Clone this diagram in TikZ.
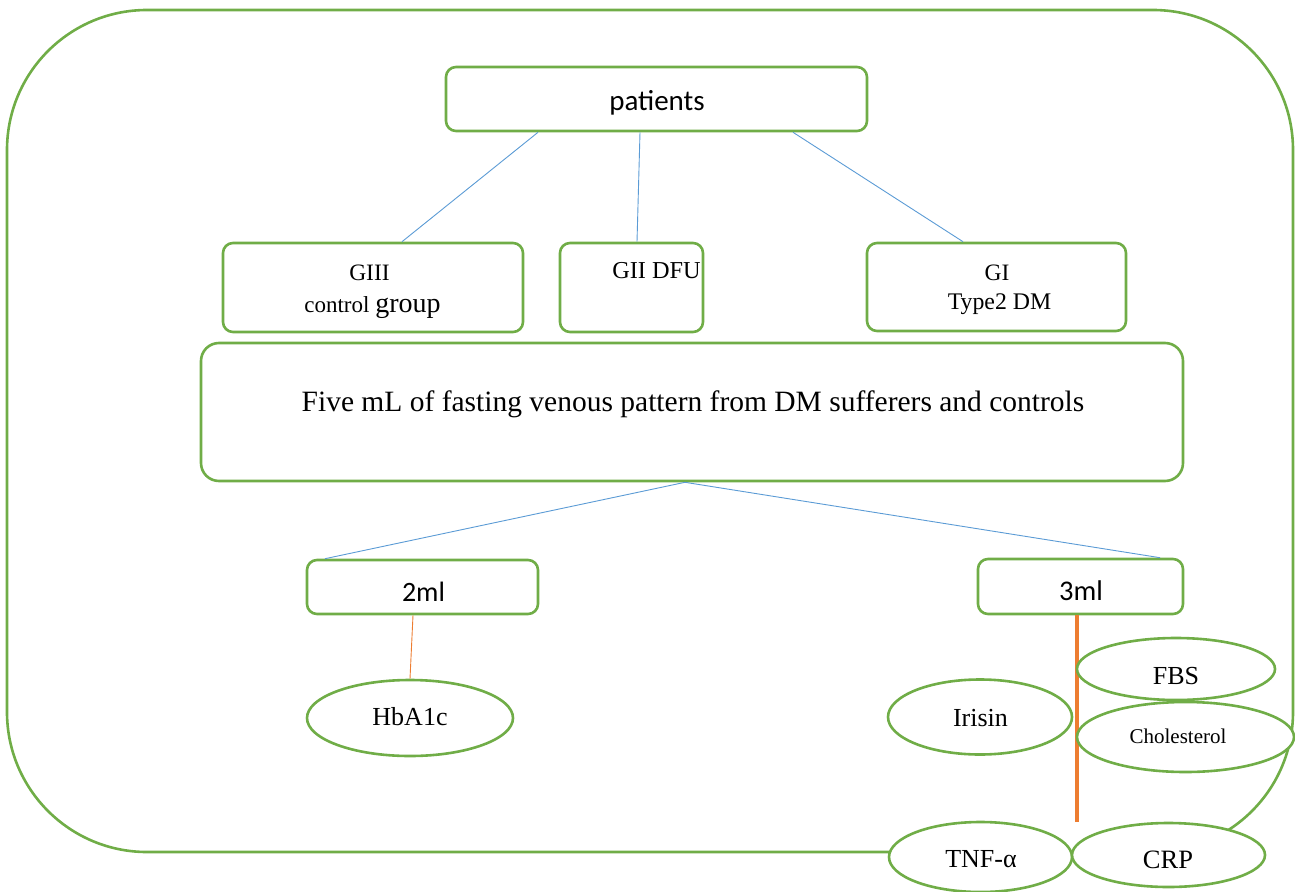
\documentclass[tikz,border=0pt]{standalone}
\usepackage{fontspec}
\setmainfont{Liberation Serif}
\newfontfamily\calfont{Carlito}
\usetikzlibrary{shapes.geometric}
\definecolor{grn}{HTML}{70AD47}
\definecolor{blu}{HTML}{5B9BD5}
\definecolor{org}{HTML}{ED7D31}
\tikzset{
  box/.style={draw=grn, line width=2.6pt, rounded corners=10pt, fill=white, inner sep=0pt},
  oval/.style={draw=grn, line width=2.6pt, ellipse, fill=white, inner sep=0pt},
  link/.style={draw=blu, line width=0.9pt},
  txt/.style={inner sep=0pt, anchor=base},
}
\newcommand{\fs}[1]{\fontsize{#1}{#1}\selectfont}
\begin{document}
\begin{tikzpicture}[x=1pt,y=-1pt]
\useasboundingbox (0,0) rectangle (1295,891);
% outer frame
\draw[grn, line width=2.6pt, rounded corners=140pt] (7,10) rectangle (1293,852);
% boxes
\node[box, minimum width=421, minimum height=64] (pat) at (656.5,99) {};
\node[txt, font=\calfont\fs{29}] (patt) at (657,110) {patients};
\node[box, minimum width=300, minimum height=89] (g3) at (373,287.5) {};
\node[box, minimum width=143, minimum height=89] (g2) at (631.5,287.5) {};
\node[box, minimum width=259, minimum height=88] (g1) at (996.5,287) {};
\node[txt, font=\fs{23.5}] (g3a) at (369.5,280) {GIII};
\node[txt] (g3b) at (372.5,312.7) {\fs{23}control \fs{28}group};
\node[txt, font=\fs{24.3}] (g2a) at (656.5,278) {GII DFU};
\node[txt, font=\fs{23.5}] (g1a) at (997,280) {GI};
\node[txt, font=\fs{23.8}] (g1b) at (999.5,309) {Type2 DM};
\node[box, rounded corners=18pt, minimum width=982, minimum height=138] (big) at (692,412) {};
\node[txt, font=\fs{29.5}] (bigt) at (693,411.5) {Five mL of fasting venous pattern from DM sufferers and controls};
\node[box, minimum width=231, minimum height=54] (ml2) at (422.5,587) {};
\node[txt, font=\calfont\fs{28}] (ml2t) at (423.5,601) {2ml};
\node[box, minimum width=205, minimum height=55] (ml3) at (1080.5,586.5) {};
\node[txt, font=\calfont\fs{28.5}] (ml3t) at (1081,600.7) {3ml};
% connectors
\draw[link] ([xshift=-118.5pt]pat.south) -- ([xshift=29pt]g3.north);
\draw[link] ([xshift=-16.5pt]pat.south) -- ([xshift=5.5pt]g2.north);
\draw[link] ([xshift=136.5pt]pat.south) -- ([xshift=-33.5pt]g1.north);
\draw[link] ([xshift=-7pt]big.south) -- ([xshift=-97.5pt]ml2.north);
\draw[link] ([xshift=-7pt]big.south) -- ([xshift=79.5pt]ml3.north);
% ovals
\node[oval, minimum width=206, minimum height=76] (hb) at (410,718) {};
\node[txt, font=\fs{26}] (hbt) at (410,725) {HbA1c};
\draw[org, line width=0.9pt] ([xshift=-9.5pt]ml2.south) -- (hb.north);
\coordinate (oend) at (1077,822);
\draw[org, line width=3.4pt] (ml3.south -| oend) -- (oend);
\node[oval, minimum width=198, minimum height=62] (fbs) at (1176,669) {};
\node[txt, font=\fs{26}] (fbst) at (1176,684) {FBS};
\node[oval, minimum width=217, minimum height=70] (chol) at (1185.5,737) {};
\node[txt, font=\fs{21}] (cholt) at (1178,743) {Cholesterol};
\node[oval, minimum width=184, minimum height=75] (iri) at (980,717) {};
\node[txt, font=\fs{26}] (irit) at (980.5,726) {Irisin};
\node[oval, minimum width=183, minimum height=70] (tnf) at (980.5,857) {};
\node[txt, font=\fs{26}] (tnft) at (981,867) {TNF-α};
\node[oval, minimum width=193, minimum height=64] (crp) at (1168.5,855) {};
\node[txt, font=\fs{26.5}] (crpt) at (1168,868) {CRP};
\end{tikzpicture}
\end{document}
